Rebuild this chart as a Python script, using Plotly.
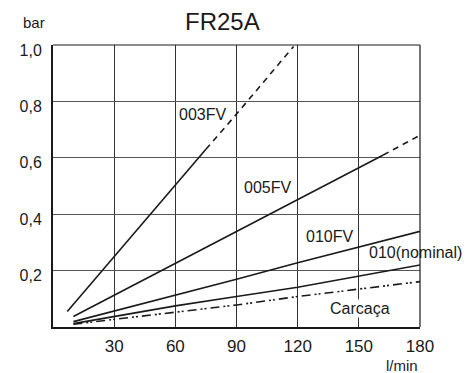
import plotly.graph_objects as go

# ---- data ----
fv003_solid_x = [7, 30, 60, 75]
fv003_solid_y = [0.055, 0.25, 0.504, 0.63]
fv003_dash_x = [75, 90, 118]
fv003_dash_y = [0.63, 0.755, 0.995]

fv005_solid_x = [10, 60, 90, 120, 162]
fv005_solid_y = [0.037, 0.225, 0.339, 0.452, 0.61]
fv005_dash_x = [162, 179]
fv005_dash_y = [0.61, 0.676]

fv010_x = [10, 60, 90, 120, 180]
fv010_y = [0.019, 0.112, 0.169, 0.228, 0.339]

nominal_x = [10, 60, 90, 120, 180]
nominal_y = [0.012, 0.075, 0.108, 0.141, 0.22]

carcaca_x = [10, 60, 90, 120, 180]
carcaca_y = [0.01, 0.051, 0.078, 0.108, 0.161]

x_tick_vals = [30, 60, 90, 120, 150, 180]
x_tick_text = ["30", "60", "90", "120", "150", "180"]
y_tick_vals = [0.2, 0.4, 0.6, 0.8, 1.0]
y_tick_text = ["0,2", "0,4", "0,6", "0,8", "1,0"]

labels = ["003FV", "005FV", "010FV", "010(nominal)", "Carcaça"]
label_x = [61.5, 93, 123.5, 154.5, 135.5]
label_y = [0.753, 0.494, 0.32, 0.263, 0.067]

title_text = "FR25A"
y_unit = "bar"
x_unit = "l/min"

FONT = "Liberation Sans, Arial, Helvetica, sans-serif"
INK = "#1a1a1a"

fig = go.Figure()

def add_line(x, y, dash="solid"):
    fig.add_trace(go.Scatter(x=x, y=y, mode="lines",
                             line=dict(color=INK, width=1.6, dash=dash),
                             showlegend=False, hoverinfo="skip"))

add_line(fv003_solid_x, fv003_solid_y)
add_line(fv003_dash_x, fv003_dash_y, "6px,5px")
add_line(fv005_solid_x, fv005_solid_y)
add_line(fv005_dash_x, fv005_dash_y, "6px,5px")
add_line(fv010_x, fv010_y)
add_line(nominal_x, nominal_y)
add_line(carcaca_x, carcaca_y, "9px,4px,2px,2px,2px,4px")

for t, lx, ly in zip(labels, label_x, label_y):
    fig.add_annotation(x=lx, y=ly, text=t, showarrow=False, xanchor="left",
                       yanchor="middle", font=dict(size=16, color=INK, family=FONT),
                       bgcolor="white" if t == "Carcaça" else None, borderpad=0)

fig.add_annotation(text=title_text, x=0.5, y=1.0, xref="paper", yref="paper",
                   xshift=-14, yshift=8, yanchor="bottom", showarrow=False,
                   font=dict(size=24, color=INK, family=FONT))
fig.add_annotation(text=y_unit, x=0, y=1.0, xref="paper", yref="paper",
                   xshift=-19, yshift=23, yanchor="middle", xanchor="center",
                   showarrow=False, font=dict(size=15, color=INK, family=FONT))
fig.add_annotation(text=x_unit, x=1.0, y=0, xref="paper", yref="paper",
                   xshift=-18, yshift=-38, yanchor="middle", xanchor="center",
                   showarrow=False, font=dict(size=15, color=INK, family=FONT))

# top and right border
fig.add_shape(type="line", xref="x domain", yref="y domain", x0=0, x1=1, y0=1, y1=1,
              line=dict(color=INK, width=1.2))
fig.add_shape(type="line", xref="x domain", yref="y domain", x0=1, x1=1, y0=0, y1=1,
              line=dict(color=INK, width=1.2))

# page body has an 8px default margin, so the figure is sized to fit inside it
fig.update_layout(
    width=463, height=365,
    margin=dict(l=34, r=51, t=37, b=46),
    paper_bgcolor="white", plot_bgcolor="white",
    font=dict(family=FONT, color=INK),
    xaxis=dict(range=[0, 180], tickvals=x_tick_vals, ticktext=x_tick_text,
               showgrid=True, gridcolor="#333333", gridwidth=1.2,
               showline=True, linecolor=INK, linewidth=2, zeroline=False,
               ticks="", tickfont=dict(size=17, color=INK), ticklabelstandoff=3),
    yaxis=dict(range=[0, 1.0], tickvals=y_tick_vals, ticktext=y_tick_text,
               showgrid=True, gridcolor="#555555", gridwidth=1.2,
               showline=True, linecolor=INK, linewidth=2, zeroline=False,
               ticks="", tickfont=dict(size=16, color=INK), ticklabelstandoff=6,
               ticklabelshift=5),
)

fig.write_html("out.html")
